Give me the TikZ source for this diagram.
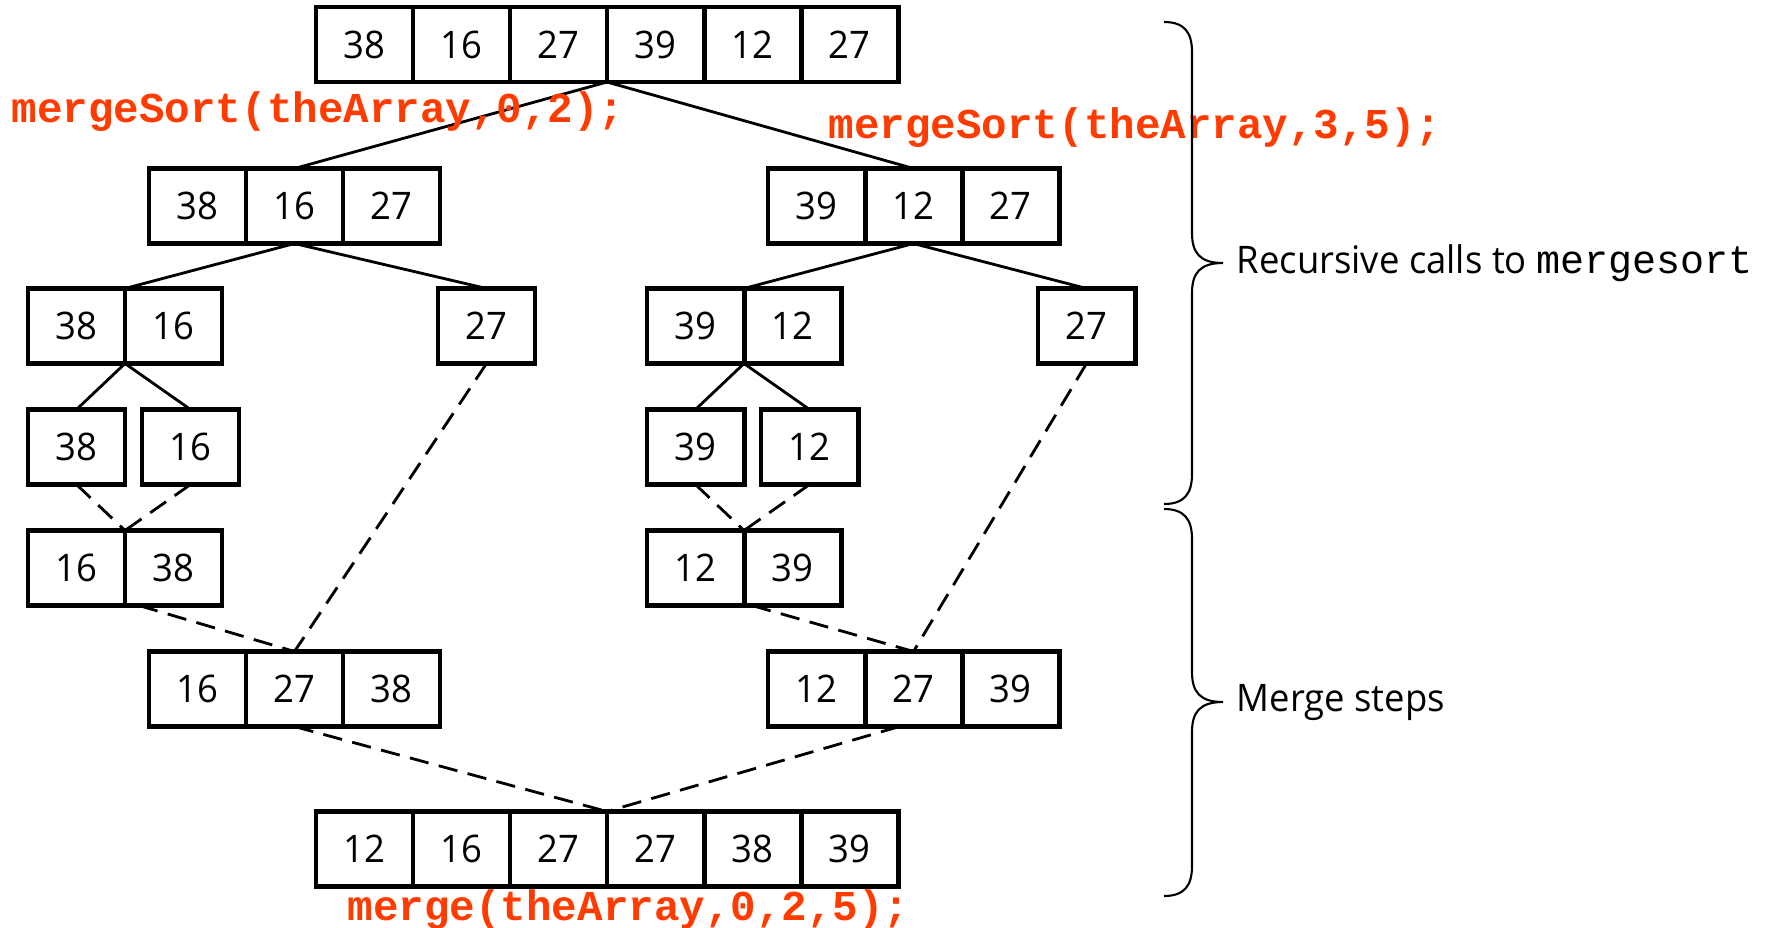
\documentclass[tikz,border=0pt]{standalone}
\usepackage{fontspec}
\setmainfont[FakeStretch=0.96]{Open Sans}
\newfontfamily\codefont{Liberation Mono}
\usepackage{xcolor}
\definecolor{CallRed}{RGB}{255,59,0}
\tikzset{
    % Node styles
    cellbox/.style={
        rectangle,
        draw=black,
        line width=1.4pt,
        minimum width=0.97cm,
        minimum height=0.75cm,
        inner sep=0pt,
        outer sep=0pt,
        text centered,
        font=\fontsize{10.8}{13}\selectfont
    },
    calllabel/.style={
        anchor=west,
        inner sep=0pt,
        text=CallRed,
        font=\codefont\bfseries\fontsize{12.1}{14}\selectfont
    },
    bracelabel/.style={
        anchor=west,
        inner sep=0pt,
        font=\fontsize{10.8}{13}\selectfont
    },
    % Line styles
    splitline/.style={
        draw=black,
        line width=0.8pt
    },
    mergeline/.style={
        draw=black,
        line width=0.8pt,
        dash pattern=on 5.5pt off 3pt
    },
    bracket/.style={
        draw=black,
        line width=0.6pt
    }
}

\begin{document}
\begin{tikzpicture}[x=0.01cm,y=-0.01cm]
    \useasboundingbox (0,0) rectangle (1767,927);

    % Original array
    \node[cellbox] (top1) at (364.5,44.5) {38};
    \node[cellbox] (top2) at (461.5,44.5) {16};
    \node[cellbox] (top3) at (558.5,44.5) {27};
    \node[cellbox] (top4) at (655.5,44.5) {39};
    \node[cellbox] (top5) at (752.5,44.5) {12};
    \node[cellbox] (top6) at (849.5,44.5) {27};

    % First split
    \node[cellbox] (la1) at (197.5,206) {38};
    \node[cellbox] (la2) at (294.5,206) {16};
    \node[cellbox] (la3) at (391.5,206) {27};
    \node[cellbox] (ra1) at (816.5,206) {39};
    \node[cellbox] (ra2) at (913.5,206) {12};
    \node[cellbox] (ra3) at (1010.5,206) {27};

    % Second split
    \node[cellbox] (lb1) at (76.5,326) {38};
    \node[cellbox] (lb2) at (173.5,326) {16};
    \node[cellbox] (lc) at (486.5,326) {27};
    \node[cellbox] (rb1) at (695.5,326) {39};
    \node[cellbox] (rb2) at (792.5,326) {12};
    \node[cellbox] (rc) at (1086.5,326) {27};

    % Single items
    \node[cellbox] (ld1) at (76.5,447) {38};
    \node[cellbox] (ld2) at (190.5,447) {16};
    \node[cellbox] (rd1) at (695.5,447) {39};
    \node[cellbox] (rd2) at (809.5,447) {12};

    % First merge
    \node[cellbox] (le1) at (76.5,568) {16};
    \node[cellbox] (le2) at (173.5,568) {38};
    \node[cellbox] (re1) at (695.5,568) {12};
    \node[cellbox] (re2) at (792.5,568) {39};

    % Second merge
    \node[cellbox] (lf1) at (197.5,689) {16};
    \node[cellbox] (lf2) at (294.5,689) {27};
    \node[cellbox] (lf3) at (391.5,689) {38};
    \node[cellbox] (rf1) at (816.5,689) {12};
    \node[cellbox] (rf2) at (913.5,689) {27};
    \node[cellbox] (rf3) at (1010.5,689) {39};

    % Sorted array
    \node[cellbox] (bot1) at (364.5,849) {12};
    \node[cellbox] (bot2) at (461.5,849) {16};
    \node[cellbox] (bot3) at (558.5,849) {27};
    \node[cellbox] (bot4) at (655.5,849) {27};
    \node[cellbox] (bot5) at (752.5,849) {38};
    \node[cellbox] (bot6) at (849.5,849) {39};

    % Recursive calls
    \draw[splitline] (top3.south east) -- (la2.north);
    \draw[splitline] (top3.south east) -- (ra2.north);
    \draw[splitline] (la2.south) -- (lb1.north east);
    \draw[splitline] (la2.south) -- (lc.north);
    \draw[splitline] (ra2.south) -- (rb1.north east);
    \draw[splitline] (ra2.south) -- (rc.north);
    \draw[splitline] (lb1.south east) -- (ld1.north);
    \draw[splitline] (lb1.south east) -- (ld2.north);
    \draw[splitline] (rb1.south east) -- (rd1.north);
    \draw[splitline] (rb1.south east) -- (rd2.north);

    % Merges
    \draw[mergeline] (ld1.south) -- (le1.north east);
    \draw[mergeline] (ld2.south) -- (le1.north east);
    \draw[mergeline] (rd1.south) -- (re1.north east);
    \draw[mergeline] (rd2.south) -- (re1.north east);
    \draw[mergeline] ([xshift=0.14cm]le1.south east) -- (lf2.north);
    \draw[mergeline] (lc.south) -- (lf2.north);
    \draw[mergeline] ([xshift=0.08cm]re1.south east) -- (rf2.north);
    \draw[mergeline] (rc.south) -- (rf2.north);
    \draw[mergeline] (lf2.south) -- (bot3.north east);
    \draw[mergeline] ([xshift=-0.14cm]rf2.south) -- (bot3.north east);

    % Calls
    \node[calllabel] (callleft) at (11,112) {mergeSort(theArray,0,2);};
    \node[calllabel] (callright) at (828,128) {mergeSort(theArray,3,5);};
    \node[calllabel] (callmerge) at (347,910) {merge(theArray,0,2,5);};

    % Braces
    \draw[bracket] (1164,22) .. controls (1184,22) and (1192,32) .. (1192,52)
        -- (1192,233) .. controls (1192,253) and (1200,263) .. (1223,263)
        .. controls (1200,263) and (1192,273) .. (1192,293)
        -- (1192,474) .. controls (1192,494) and (1184,504) .. (1164,504);
    \draw[bracket] (1164,509) .. controls (1184,509) and (1192,519) .. (1192,539)
        -- (1192,672) .. controls (1192,692) and (1200,702) .. (1223,702)
        .. controls (1200,702) and (1192,712) .. (1192,732)
        -- (1192,866) .. controls (1192,886) and (1184,896) .. (1164,896);
    \node[bracelabel] (recurlabel) at (1236,263) {Recursive calls to {\codefont\fontsize{11.4}{13}\selectfont mergesort}};
    \node[bracelabel] (mergelabel) at (1236,702) {Merge steps};
\end{tikzpicture}
\end{document}
